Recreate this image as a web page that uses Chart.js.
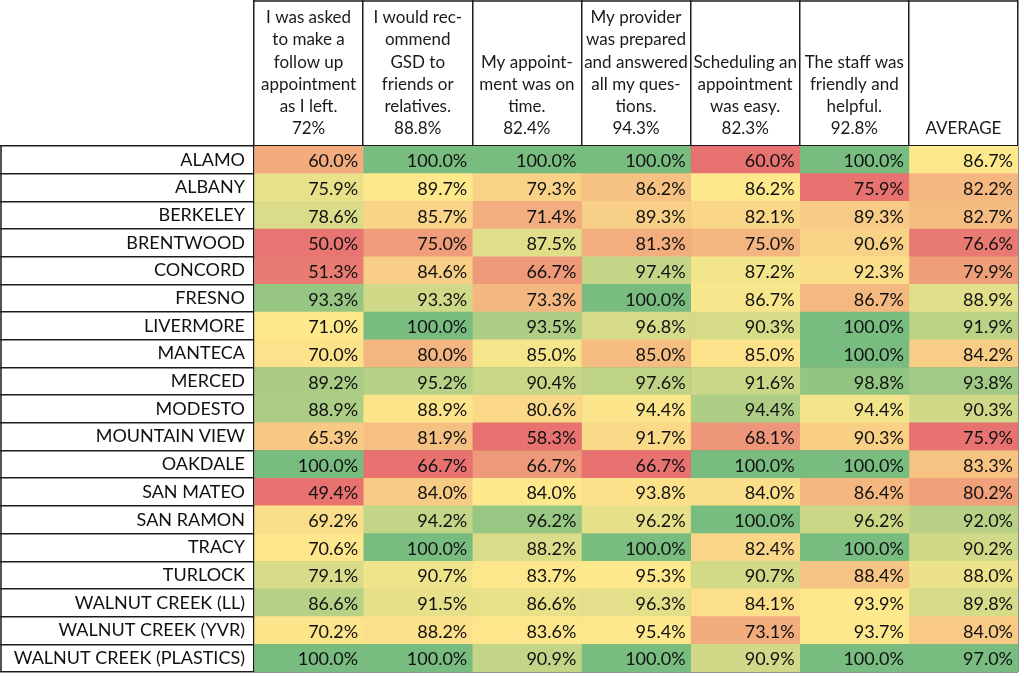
<!DOCTYPE html>
<html>
<head>
<meta charset="utf-8">
<script src="https://cdn.jsdelivr.net/npm/chart.js@4.4.1/dist/chart.umd.min.js"></script>
<style>
  html, body { margin: 0; padding: 0; background: #fff; }
  #wrap { width: 1024px; height: 676px; }
</style>
</head>
<body>
<div id="wrap"><canvas id="heat"></canvas></div>
<script>
var offices = ['ALAMO', 'ALBANY', 'BERKELEY', 'BRENTWOOD', 'CONCORD', 'FRESNO', 'LIVERMORE',
  'MANTECA', 'MERCED', 'MODESTO', 'MOUNTAIN VIEW', 'OAKDALE', 'SAN MATEO', 'SAN RAMON',
  'TRACY', 'TURLOCK', 'WALNUT CREEK (LL)', 'WALNUT CREEK (YVR)', 'WALNUT CREEK (PLASTICS)'];

// header text, already broken into lines like the sheet
var questions = [
  ['I was asked', 'to make a', 'follow up', 'appointment', 'as I left.', '72%'],
  ['I would rec-', 'ommend', 'GSD to', 'friends or', 'relatives.', '88.8%'],
  ['My appoint-', 'ment was on', 'time.', '82.4%'],
  ['My provider', 'was prepared', 'and answered', 'all my ques-', 'tions.', '94.3%'],
  ['Scheduling an', 'appointment', 'was easy.', '82.3%'],
  ['The staff was', 'friendly and', 'helpful.', '92.8%'],
  ['AVERAGE']
];

var asked      = [60.0, 75.9, 78.6, 50.0, 51.3, 93.3, 71.0, 70.0, 89.2, 88.9, 65.3, 100.0, 49.4, 69.2, 70.6, 79.1, 86.6, 70.2, 100.0];
var recommend  = [100.0, 89.7, 85.7, 75.0, 84.6, 93.3, 100.0, 80.0, 95.2, 88.9, 81.9, 66.7, 84.0, 94.2, 100.0, 90.7, 91.5, 88.2, 100.0];
var onTime     = [100.0, 79.3, 71.4, 87.5, 66.7, 73.3, 93.5, 85.0, 90.4, 80.6, 58.3, 66.7, 84.0, 96.2, 88.2, 83.7, 86.6, 83.6, 90.9];
var prepared   = [100.0, 86.2, 89.3, 81.3, 97.4, 100.0, 96.8, 85.0, 97.6, 94.4, 91.7, 66.7, 93.8, 96.2, 100.0, 95.3, 96.3, 95.4, 100.0];
var scheduling = [60.0, 86.2, 82.1, 75.0, 87.2, 86.7, 90.3, 85.0, 91.6, 94.4, 68.1, 100.0, 84.0, 100.0, 82.4, 90.7, 84.1, 73.1, 90.9];
var staff      = [100.0, 75.9, 89.3, 90.6, 92.3, 86.7, 100.0, 100.0, 98.8, 94.4, 90.3, 100.0, 86.4, 96.2, 100.0, 88.4, 93.9, 93.7, 100.0];
var average    = [86.7, 82.2, 82.7, 76.6, 79.9, 88.9, 91.9, 84.2, 93.8, 90.3, 75.9, 83.3, 80.2, 92.0, 90.2, 88.0, 89.8, 84.0, 97.0];

var columns = [asked, recommend, onTime, prepared, scheduling, staff, average];

var FONT = 'Lato, "Open Sans", sans-serif';
var LINE = '#1c1c1c';
var RED = [231, 114, 112], YELLOW = [253, 232, 140], GREEN = [121, 188, 128];

function median(arr) {
  var s = arr.slice().sort(function(a, b) { return a - b; });
  var n = s.length;
  return n % 2 ? s[(n - 1) / 2] : (s[n / 2 - 1] + s[n / 2]) / 2;
}

function mix(a, b, t) {
  var c = [];
  for (var k = 0; k < 3; k++) c.push(Math.round(a[k] + (b[k] - a[k]) * t));
  return 'rgb(' + c.join(',') + ')';
}

// 3 colour scale per column, min red / median yellow / max green
function scaleColors(col) {
  var lo = Math.min.apply(null, col), hi = Math.max.apply(null, col), mid = median(col);
  return col.map(function(v) {
    if (v <= mid) return mix(RED, YELLOW, mid === lo ? 1 : (v - lo) / (mid - lo));
    return mix(YELLOW, GREEN, (v - mid) / (hi - mid));
  });
}

var datasets = columns.map(function(col, j) {
  return {
    label: questions[j].join(' '),
    data: offices.map(function() { return [j, j + 1]; }),
    values: col,
    backgroundColor: scaleColors(col),
    borderWidth: 0,
    grouped: false,
    barPercentage: 1,
    categoryPercentage: 1,
    xAxisID: 'x',
    yAxisID: 'y'
  };
});

var cellText = {
  id: 'cellText',
  afterDatasetsDraw: function(chart) {
    var ctx = chart.ctx;
    ctx.save();
    ctx.font = '18px ' + FONT;
    ctx.fillStyle = '#111';
    ctx.textAlign = 'right';
    ctx.textBaseline = 'middle';
    chart.data.datasets.forEach(function(ds, j) {
      chart.getDatasetMeta(j).data.forEach(function(bar, i) {
        var right = Math.max(bar.x, bar.base);
        ctx.fillText(ds.values[i].toFixed(1) + '%', right - 5, bar.y + 1.5);
      });
    });
    ctx.restore();
  }
};

// outer edges the grid does not reach: top of header, left of the names
var frame = {
  id: 'frame',
  afterDraw: function(chart) {
    var ctx = chart.ctx, a = chart.chartArea;
    ctx.save();
    ctx.strokeStyle = LINE;
    ctx.lineWidth = 1.5;
    ctx.beginPath();
    ctx.moveTo(a.left, 1);
    ctx.lineTo(a.right, 1);
    ctx.moveTo(1, a.top);
    ctx.lineTo(1, a.bottom);
    ctx.stroke();
    ctx.restore();
  }
};

function noPad(s) {
  s.paddingTop = 0; s.paddingBottom = 0; s.paddingLeft = 0; s.paddingRight = 0;
}

new Chart(document.getElementById('heat'), {
  type: 'bar',
  data: { labels: offices, datasets: datasets },
  options: {
    indexAxis: 'y',
    responsive: true,
    maintainAspectRatio: false,
    animation: false,
    layout: { padding: { left: 0, right: 6, top: 0, bottom: 4 } },
    plugins: { legend: { display: false }, tooltip: { enabled: false } },
    scales: {
      x: {
        type: 'linear', position: 'top', min: 0, max: 7, weight: 0, z: 1,
        ticks: { display: false, stepSize: 1 },
        grid: { color: LINE, lineWidth: 1.5, tickLength: 146 },
        border: { display: false },
        afterFit: function(s) { s.height = 0; noPad(s); }
      },
      x2: {
        type: 'category', position: 'top', labels: questions, offset: true, weight: 1,
        grid: { display: false, drawTicks: false },
        border: { display: false },
        ticks: {
          autoSkip: false, maxRotation: 0, minRotation: 0, padding: 6,
          color: '#1a1a1a', font: { family: FONT, size: 17, lineHeight: 1.31 }
        },
        afterFit: function(s) { s.height = 146; noPad(s); }
      },
      y: {
        type: 'category', position: 'left', weight: 1,
        grid: { display: false, drawTicks: false },
        border: { display: false },
        ticks: { padding: 9, color: '#111', font: { family: FONT, size: 18 } },
        afterFit: function(s) { s.width = 254; noPad(s); }
      },
      y2: {
        type: 'category', position: 'left', offset: true, weight: 0, z: 1,
        ticks: { display: false },
        grid: { offset: true, color: LINE, lineWidth: 1.5, tickLength: 254 },
        border: { display: false },
        afterFit: function(s) { s.width = 0; noPad(s); }
      }
    }
  },
  plugins: [cellText, frame]
});
</script>
</body>
</html>
